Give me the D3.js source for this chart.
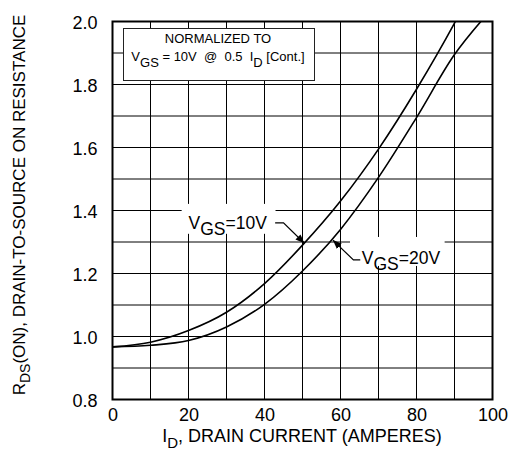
<!DOCTYPE html>
<html>
<head>
<meta charset="utf-8">
<style>
    body { margin: 0; background: #fff; }
    text { font-family: "Liberation Sans", Arial, Helvetica, sans-serif; fill: #000; }
</style>
</head>
<body>
<div id="chart"></div>
<script src="https://d3js.org/d3.v7.min.js"></script>
<script type="text/javascript">
    // drain current (A) and normalized on-resistance
    var amps10 = [0, 10, 20, 30, 40, 50, 60, 70, 80, 90, 92];
    var rds10 = [0.967, 0.982, 1.019, 1.077, 1.168, 1.290, 1.430, 1.595, 1.785, 1.995, 2.04];
    var amps20 = [0, 10, 20, 30, 40, 50, 60, 70, 80, 90, 98];
    var rds20 = [0.967, 0.972, 0.987, 1.030, 1.102, 1.208, 1.340, 1.505, 1.695, 1.895, 2.015];

    var xTicks = [0, 20, 40, 60, 80, 100];
    var yTicks = [0.8, 1.0, 1.2, 1.4, 1.6, 1.8, 2.0];

    // curve labels: text start, leader start/knee and arrow tip, in data units
    var labels = [
        { main: "V", sub: "GS", rest: "=10V", tx: 20, ty: 1.34, lead: [[42.8, 1.361], [45.0, 1.361], [50.5, 1.296]], box: [18.2, 1.421, 42.9, 1.326] },
        { main: "V", sub: "GS", rest: "=20V", tx: 65.6, ty: 1.23, lead: [[65.2, 1.243], [63.4, 1.243], [58.0, 1.306]], box: [62.5, 1.316, 87.4, 1.224] }
    ];

    var w = 514, h = 453;

    var svg = d3.select("#chart").append("svg")
        .attr("width", w)
        .attr("height", h);

    var x = d3.scaleLinear().domain([0, 100]).range([112.5, 492.5]);
    var y = d3.scaleLinear().domain([0.8, 2.0]).range([399.5, 21.5]);

    svg.append("defs").append("clipPath").attr("id", "plot")
        .append("rect")
        .attr("x", x(0)).attr("y", y(2.0))
        .attr("width", x(100) - x(0)).attr("height", y(0.8) - y(2.0));

    // grid
    var grid = svg.append("g").attr("stroke", "#000").attr("stroke-width", 1);
    grid.selectAll(".gx").data(d3.range(0, 101, 10)).enter().append("line")
        .attr("x1", function (d) { return x(d); })
        .attr("x2", function (d) { return x(d); })
        .attr("y1", y(0.8)).attr("y2", y(2.0));
    grid.selectAll(".gy").data(d3.range(8, 21).map(function (d) { return d / 10; })).enter().append("line")
        .attr("y1", function (d) { return y(d); })
        .attr("y2", function (d) { return y(d); })
        .attr("x1", x(0)).attr("x2", x(100));

    svg.append("rect")
        .attr("x", x(0)).attr("y", y(2.0))
        .attr("width", x(100) - x(0)).attr("height", y(0.8) - y(2.0))
        .attr("fill", "none").attr("stroke", "#000").attr("stroke-width", 2);

    // axes labels
    var xAxis = svg.append("g")
        .attr("transform", "translate(0," + y(0.8) + ")")
        .call(d3.axisBottom(x).tickValues(xTicks).tickSize(0).tickPadding(9).tickFormat(d3.format("d")));
    var yAxis = svg.append("g")
        .attr("transform", "translate(" + x(0) + ",0)")
        .call(d3.axisLeft(y).tickValues(yTicks).tickSize(0).tickPadding(15).tickFormat(d3.format(".1f")));
    [xAxis, yAxis].forEach(function (a) {
        a.select(".domain").remove();
        a.selectAll("text").attr("font-size", "18px").attr("fill", "#000")
            .style("font-family", '"Liberation Sans", Arial, sans-serif');
    });
    yAxis.selectAll("text").attr("dy", "0.4em");

    // curves
    var line = d3.line()
        .x(function (d) { return x(d[0]); })
        .y(function (d) { return y(d[1]); })
        .curve(d3.curveMonotoneX);

    var curves = svg.append("g").attr("clip-path", "url(#plot)");
    [[amps10, rds10], [amps20, rds20]].forEach(function (s) {
        curves.append("path")
            .datum(d3.zip(s[0], s[1]))
            .attr("d", line)
            .attr("fill", "none")
            .attr("stroke", "#000")
            .attr("stroke-width", 1.6);
    });

    // curve annotations
    svg.append("defs").append("marker")
        .attr("id", "arrow")
        .attr("viewBox", "0 0 10 10")
        .attr("refX", 10).attr("refY", 5)
        .attr("markerWidth", 9).attr("markerHeight", 9)
        .attr("markerUnits", "userSpaceOnUse")
        .attr("orient", "auto")
        .append("path").attr("d", "M0,1 L10,5 L0,9 z").attr("fill", "#000");

    labels.forEach(function (l) {
        svg.append("rect")
            .attr("x", x(l.box[0])).attr("y", y(l.box[1]))
            .attr("width", x(l.box[2]) - x(l.box[0]))
            .attr("height", y(l.box[3]) - y(l.box[1]))
            .attr("fill", "#fff");
        svg.append("path")
            .attr("d", d3.line().x(function (d) { return x(d[0]); }).y(function (d) { return y(d[1]); })(l.lead))
            .attr("fill", "none").attr("stroke", "#000").attr("stroke-width", 1.2)
            .attr("marker-end", "url(#arrow)");
        var t = svg.append("text")
            .attr("x", x(l.tx)).attr("y", y(l.ty))
            .attr("font-size", "17.5px");
        t.append("tspan").text(l.main);
        t.append("tspan").attr("dy", 6).text(l.sub);
        t.append("tspan").attr("dy", -6).text(l.rest);
    });

    // normalization box
    svg.append("rect")
        .attr("x", 123.5).attr("y", 28.5)
        .attr("width", 191).attr("height", 52)
        .attr("fill", "#fff").attr("stroke", "#222").attr("stroke-width", 1);
    svg.append("text")
        .attr("x", 218).attr("y", 43)
        .attr("text-anchor", "middle")
        .attr("font-size", "13px")
        .text("NORMALIZED TO");
    var n = svg.append("text")
        .attr("x", 218).attr("y", 61)
        .attr("text-anchor", "middle")
        .attr("font-size", "13px")
        .style("white-space", "pre");
    n.append("tspan").text("V");
    n.append("tspan").attr("dy", 6).text("GS");
    n.append("tspan").attr("dy", -6).text(" = 10V  @  0.5  I");
    n.append("tspan").attr("dy", 6).text("D");
    n.append("tspan").attr("dy", -6).text(" [Cont.]");

    // axis titles
    var xt = svg.append("text")
        .attr("x", 302).attr("y", 442)
        .attr("text-anchor", "middle")
        .attr("font-size", "18px");
    xt.append("tspan").text("I");
    xt.append("tspan").attr("dy", 6).attr("font-size", "15px").text("D");
    xt.append("tspan").attr("dy", -6).text(", DRAIN CURRENT (AMPERES)");

    var yt = svg.append("text")
        .attr("transform", "translate(25,205) rotate(-90)")
        .attr("text-anchor", "middle")
        .attr("font-size", "17px");
    yt.append("tspan").text("R");
    yt.append("tspan").attr("dy", 5).attr("font-size", "14px").text("DS");
    yt.append("tspan").attr("dy", -5).text("(ON), DRAIN-TO-SOURCE ON RESISTANCE");
</script>
</body>
</html>
